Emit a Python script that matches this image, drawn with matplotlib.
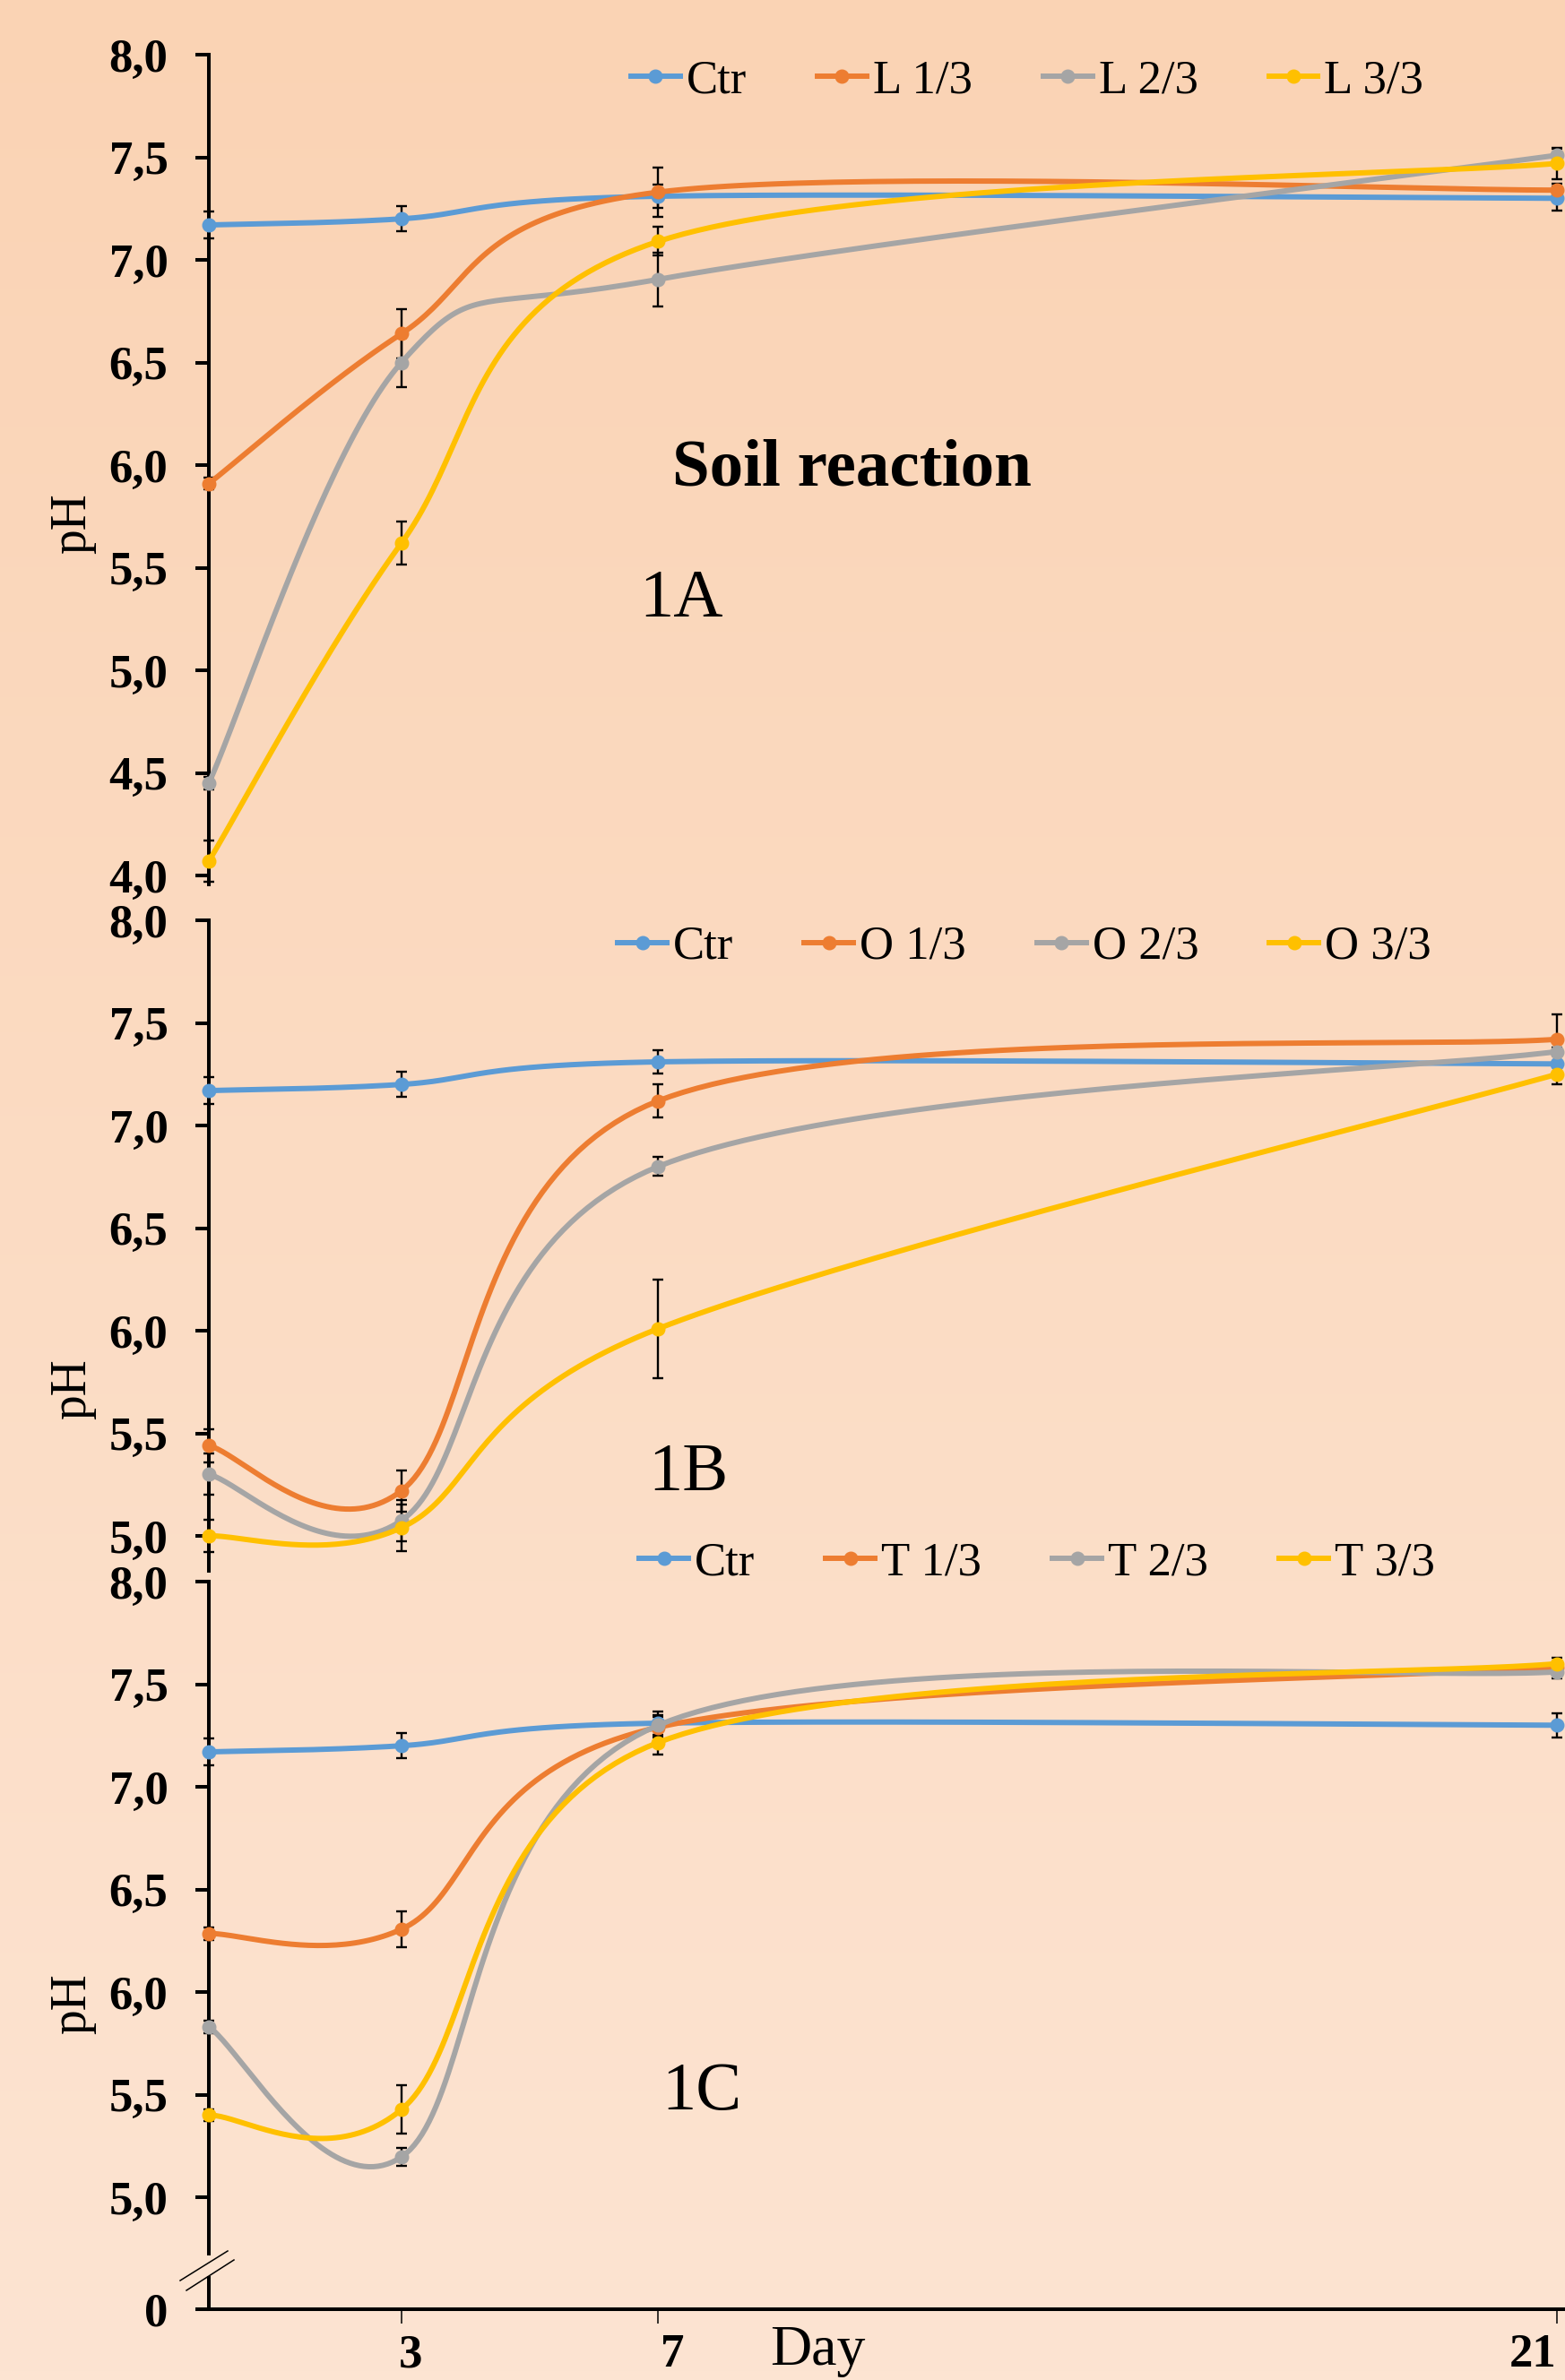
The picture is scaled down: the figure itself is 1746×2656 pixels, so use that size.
import numpy as np
import matplotlib
matplotlib.use('Agg')
import matplotlib.pyplot as plt
from matplotlib.lines import Line2D
from matplotlib.transforms import ScaledTranslation

plt.rcParams['font.family'] = ['Liberation Serif', 'DejaVu Serif']

# ---- data (pH) ----
days = [0, 3, 7, 21]

ctr = [7.17, 7.20, 7.31, 7.30]
ctr_err = [0.065, 0.06, 0.055, 0.06]

# 1A
l13 = [5.91, 6.64, 7.33, 7.34]
l13_err = [0.03, 0.12, 0.12, 0.03]
l23 = [4.45, 6.50, 6.905, 7.51]
l23_err = [0.03, 0.12, 0.13, 0.03]
l33 = [4.07, 5.62, 7.09, 7.47]
l33_err = [0.10, 0.105, 0.07, 0.075]

# 1B
o13 = [5.44, 5.22, 7.12, 7.42]
o13_err = [0.08, 0.10, 0.08, 0.12]
o23 = [5.30, 5.075, 6.80, 7.36]
o23_err = [0.10, 0.10, 0.045, 0.02]
o33 = [5.00, 5.04, 6.01, 7.25]
o33_err = [0.08, 0.115, 0.24, 0.05]

# 1C
t13 = [6.285, 6.306, 7.29, 7.58]
t13_err = [0.03, 0.087, 0.05, 0.03]
t23 = [5.83, 5.196, 7.30, 7.56]
t23_err = [0.03, 0.044, 0.05, 0.03]
t33 = [5.40, 5.427, 7.216, 7.60]
t33_err = [0.03, 0.117, 0.06, 0.03]

labels_a = ['Ctr', 'L 1/3', 'L 2/3', 'L 3/3']
labels_b = ['Ctr', 'O 1/3', 'O 2/3', 'O 3/3']
labels_c = ['Ctr', 'T 1/3', 'T 2/3', 'T 3/3']
panel_names = ['1A', '1B', '1C']
yticks_a = [4.0, 4.5, 5.0, 5.5, 6.0, 6.5, 7.0, 7.5, 8.0]
yticks_bc = [5.0, 5.5, 6.0, 6.5, 7.0, 7.5, 8.0]
xtick_days = [3, 7, 21]

colors = ['#5B9BD5', '#ED7D31', '#A5A5A5', '#FFC000']

# ---- layout (pixels of the 1746x2656 image) ----
W, H = 1746, 2656
X0 = 233          # day 0
PX_DAY = 71.62
PX_UNIT = 229     # pixels per pH unit
panel_px = [(61, 987), (1027, 1753), (1765, 2577)]


def smooth(x, y, n=50):
    # Excel-like smoothed line (Catmull-Rom as cubic Bezier)
    x = np.asarray(x, float)
    y = np.asarray(y, float)
    pts = np.column_stack([x, y])
    pts = np.vstack([pts[:1], pts, pts[-1:]])
    t = np.linspace(0, 1, n)[:, None]
    out = []
    for i in range(1, len(pts) - 2):
        p0, p1, p2, p3 = pts[i - 1], pts[i], pts[i + 1], pts[i + 2]
        c1 = p1 + (p2 - p0) / 6
        c2 = p2 - (p3 - p1) / 6
        seg = ((1 - t) ** 3) * p1 + 3 * ((1 - t) ** 2) * t * c1 + 3 * (1 - t) * t ** 2 * c2 + t ** 3 * p2
        out.append(seg if i == 1 else seg[1:])
    out = np.vstack(out)
    return out[:, 0], out[:, 1]


def fmt(v):
    return f"{v:.1f}".replace('.', ',')


fig = plt.figure(figsize=(W / 100, H / 100), dpi=100)

# background gradient
bg = fig.add_axes([0, 0, 1, 1], zorder=0)
top_c = np.array([250, 211, 180]) / 255
bot_c = np.array([253, 228, 210]) / 255
g = np.linspace(0, 1, 256)[:, None]
grad = top_c[None, :] * (1 - g) + bot_c[None, :] * g
bg.imshow(grad[:, None, :], aspect='auto', extent=[0, 1, 0, 1])
bg.axis('off')

panels = [
    ([ctr, l13, l23, l33], [ctr_err, l13_err, l23_err, l33_err], labels_a, yticks_a),
    ([ctr, o13, o23, o33], [ctr_err, o13_err, o23_err, o33_err], labels_b, yticks_bc),
    ([ctr, t13, t23, t33], [ctr_err, t13_err, t23_err, t33_err], labels_c, yticks_bc),
]
legend_centers = [(1146, 90), (1143, 1057), (1157, 1744)]
name_pos = [(713, 688), (723, 1663), (738, 2354)]
ph_pos = [584, 1550, 2236]

axes = []
for k, (series, errs, labels, yt) in enumerate(panels):
    top, bottom = panel_px[k]
    ax = fig.add_axes([X0 / W, 1 - bottom / H, (W - X0) / W, (bottom - top) / H], zorder=1)
    ax.set_facecolor('none')
    ymin = 8.0 - (bottom - top) / PX_UNIT
    ax.set_xlim(0, (W - X0) / PX_DAY)
    ax.set_ylim(ymin, 8.0)

    for j, (vals, err) in enumerate(zip(series, errs)):
        eb = ax.errorbar(days, vals, yerr=err, fmt='none', ecolor='black',
                         elinewidth=1.7, capsize=4, capthick=1.7, zorder=3)
        for art in list(eb[1]) + list(eb[2]):
            art.set_clip_on(False)
    for j, vals in enumerate(series):
        xs, ys = smooth(days, vals)
        ax.plot(xs, ys, color=colors[j], lw=4.3, zorder=4 + j, clip_on=False,
                solid_capstyle='round')
        ax.plot(days, vals, 'o', color=colors[j], ms=10.5, zorder=4 + j, clip_on=False)

    for s in ['top', 'right', 'bottom']:
        ax.spines[s].set_visible(False)
    ax.spines['left'].set_linewidth(2.9)

    ticks = list(yt)
    tick_labels = [fmt(v) for v in yt]
    if k == 2:
        ticks = [ymin] + ticks
        tick_labels = ['0'] + tick_labels
    ax.set_yticks(ticks)
    ax.set_yticklabels(tick_labels, fontweight='bold', fontsize=38)
    ax.tick_params(axis='y', direction='out', length=10.8, width=2.9, pad=22)

    if k == 2:
        ax.spines['bottom'].set_visible(True)
        ax.spines['bottom'].set_linewidth(2.9)
        ax.set_xticks(xtick_days)
        ax.set_xticklabels([str(d) for d in xtick_days], fontweight='bold', fontsize=38)
        ax.tick_params(axis='x', direction='out', length=11.5, width=1.1, pad=8)
        for lab, dx in zip(ax.get_xticklabels(), [10, 16, -27]):
            lab.set_transform(lab.get_transform() + ScaledTranslation(dx / 100, 0, fig.dpi_scale_trans))

        # broken y axis between 0 and 5,0
        yv = lambda py: 8.0 - (py - top) / PX_UNIT
        xv = lambda px: (px - X0) / PX_DAY
        ax.spines['left'].set_bounds(yv(2515), 8.0)
        ax.plot([0, 0], [ymin, yv(2540)], color='black', lw=2.9, clip_on=False,
                solid_capstyle='butt', zorder=2.5)
        ax.plot([xv(201), xv(254)], [yv(2545), yv(2512)], color='black', lw=1.1, clip_on=False)
        ax.plot([xv(208), xv(261)], [yv(2556), yv(2522)], color='black', lw=1.1, clip_on=False)
    else:
        ax.set_xticks([])

    handles = [Line2D([], [], color=c, lw=4.3, marker='o', ms=10.5) for c in colors]
    lx, ly = legend_centers[k]
    ax.legend(handles, labels, ncol=4, loc='center', bbox_to_anchor=(lx / W, 1 - ly / H),
              bbox_transform=fig.transFigure, frameon=False, prop={'size': 38},
              handlelength=1.04, handletextpad=0.13, columnspacing=1.5,
              borderpad=0, numpoints=1)

    nx, ny = name_pos[k]
    fig.text(nx / W, 1 - ny / H, panel_names[k], fontsize=55, ha='left', va='baseline')
    fig.text(81 / W, 1 - ph_pos[k] / H, 'pH', fontsize=40, rotation=90, ha='center', va='center')
    axes.append(ax)

fig.text(950 / W, 1 - 542 / H, 'Soil reaction', fontsize=54, fontweight='bold',
         ha='center', va='baseline')
fig.text(859 / W, 1 - 2639 / H, 'Day', fontsize=46, ha='left', va='baseline')

fig.savefig('out.png', dpi=100)
